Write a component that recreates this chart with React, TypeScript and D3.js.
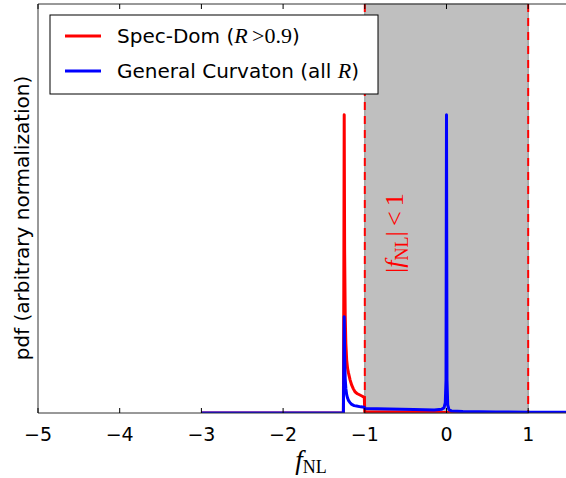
import React from "react";
import * as d3 from "d3";

// ---- data ----
const xTicks = [-5, -4, -3, -2, -1, 0, 1];
const xTickLabels = ["\u22125", "\u22124", "\u22123", "\u22122", "\u22121", "0", "1"];

const specDomX = [-3, -1.262, -1.257, -1.252, -1.247, -1.24, -1.232, -1.222, -1.21, -1.2, -1.18, -1.16, -1.14, -1.12, -1.09, -1.06, -1.03, -1.006, -1.0, -0.7, -0.4, -0.1, 0, 0.5, 1.0, 1.6];
const specDomY = [0, 0, 0.3, 0.729, 0.4, 0.24, 0.17, 0.13, 0.108, 0.098, 0.081, 0.068, 0.059, 0.052, 0.047, 0.044, 0.041, 0.038, 0.003, 0.0025, 0.002, 0.0015, 0.0012, 0.001, 0.0008, 0.0006];

const curvatonX = [-3, -1.262, -1.257, -1.252, -1.247, -1.24, -1.232, -1.222, -1.21, -1.2, -1.18, -1.16, -1.13, -1.1, -1.05, -1.006, -1.0, -0.7, -0.4, -0.15, -0.06, -0.03, -0.015, -0.006, 0, 0.006, 0.015, 0.03, 0.06, 0.2, 0.6, 1.0, 1.6];
const curvatonY = [0, 0, 0.12, 0.2355, 0.14, 0.085, 0.06, 0.045, 0.036, 0.031, 0.025, 0.021, 0.018, 0.017, 0.015, 0.014, 0.011, 0.0095, 0.0085, 0.0075, 0.009, 0.013, 0.025, 0.08, 0.729, 0.08, 0.02, 0.008, 0.005, 0.0035, 0.0025, 0.002, 0.0015];

const spanRange = [-1, 1];

const W = 566;
const H = 478;
const left = 38;
const right = 566;
const top = 4;
const bottom = 413;

export default function App() {
  const x = d3.scaleLinear().domain([-5, 1.4627]).range([left, right]);
  const y = d3.scaleLinear().domain([0, 1]).range([bottom, top]);

  const line = d3
    .line<[number, number]>()
    .x((d) => x(d[0]))
    .y((d) => y(d[1]));

  const red = specDomX.map((v, i) => [v, specDomY[i]] as [number, number]);
  const blue = curvatonX.map((v, i) => [v, curvatonY[i]] as [number, number]);

  const sans = "'DejaVu Sans', sans-serif";
  const serif = "'Liberation Serif', 'DejaVu Serif', serif";
  const spine = "#333";

  return (
    <svg
      width={W}
      height={H}
      style={{ position: "absolute", left: 0, top: 0, background: "#fff" }}
    >
      <defs>
        <clipPath id="plotclip">
          <rect x={left} y={top} width={right - left + 20} height={bottom - top} />
        </clipPath>
      </defs>
      <rect x={0} y={0} width={W} height={H} fill="#fff" />
      {/* shaded |fNL|<1 region */}
      <rect
        x={x(spanRange[0])}
        y={top}
        width={x(spanRange[1]) - x(spanRange[0])}
        height={bottom - top}
        fill="#bfbfbf"
        stroke="#8c8c8c"
        strokeWidth={1}
      />
      {spanRange.map((v) => (
        <line
          key={v}
          x1={x(v)}
          x2={x(v)}
          y1={top}
          y2={bottom}
          stroke="#ff0000"
          strokeWidth={2}
          strokeDasharray="8,6"
        />
      ))}
      <g clipPath="url(#plotclip)">
        <path d={line(red) || ""} fill="none" stroke="#ff0000" strokeWidth={3} strokeLinejoin="round" />
        <path d={line(blue) || ""} fill="none" stroke="#0000ff" strokeWidth={3} strokeLinejoin="round" />
      </g>
      {/* spines */}
      <line x1={left} x2={right + 10} y1={bottom} y2={bottom} stroke={spine} strokeWidth={1} />
      <line x1={left} x2={right + 10} y1={top} y2={top} stroke={spine} strokeWidth={1} />
      <line x1={left} x2={left} y1={top} y2={bottom} stroke={spine} strokeWidth={1} />
      {xTicks.map((t, i) => (
        <g key={t}>
          <line x1={x(t)} x2={x(t)} y1={bottom} y2={bottom - 5} stroke="#000" strokeWidth={1} />
          <line x1={x(t)} x2={x(t)} y1={top} y2={top + 5} stroke="#000" strokeWidth={1} />
          <text
            x={x(t)}
            y={441}
            textAnchor="middle"
            fontFamily={sans}
            fontSize={19}
            fill="#000"
          >
            {xTickLabels[i]}
          </text>
        </g>
      ))}
      {/* x label */}
      <text x={311} y={469} textAnchor="middle" fontFamily={serif} fontSize={27} fill="#000">
        <tspan fontStyle="italic">f</tspan>
        <tspan fontSize={18} dy={4}>NL</tspan>
      </text>
      {/* y label */}
      <text
        transform="translate(29,218) rotate(-90)"
        textAnchor="middle"
        fontFamily={sans}
        fontSize={20}
        fill="#000"
      >
        pdf (arbitrary normalization)
      </text>
      {/* annotation */}
      <text
        transform="translate(403,233) rotate(-90)"
        textAnchor="middle"
        fontFamily={serif}
        fontSize={26}
        fill="#ff0000"
      >
        <tspan>|</tspan>
        <tspan fontStyle="italic">f</tspan>
        <tspan fontSize={18} dy={5}>NL</tspan>
        <tspan dy={-5}>|</tspan>
        <tspan>{"\u2009<\u20091"}</tspan>
      </text>
      {/* legend */}
      <rect x={50} y={15} width={328} height={79} fill="#fff" stroke="#000" strokeWidth={1} />
      <line x1={65} x2={101} y1={36} y2={36} stroke="#ff0000" strokeWidth={3} />
      <line x1={65} x2={101} y1={71} y2={71} stroke="#0000ff" strokeWidth={3} />
      <text x={117} y={43} fontFamily={sans} fontSize={20} fill="#000">
        <tspan>Spec-Dom (</tspan>
        <tspan fontFamily={serif} fontStyle="italic" fontSize={22}>R</tspan>
        <tspan fontFamily={serif} fontSize={22}>{"\u2009>0.9"}</tspan>
        <tspan>)</tspan>
      </text>
      <text x={117} y={78} fontFamily={sans} fontSize={20} fill="#000">
        <tspan>General Curvaton (all </tspan>
        <tspan fontFamily={serif} fontStyle="italic" fontSize={22}>R</tspan>
        <tspan>)</tspan>
      </text>
    </svg>
  );
}
